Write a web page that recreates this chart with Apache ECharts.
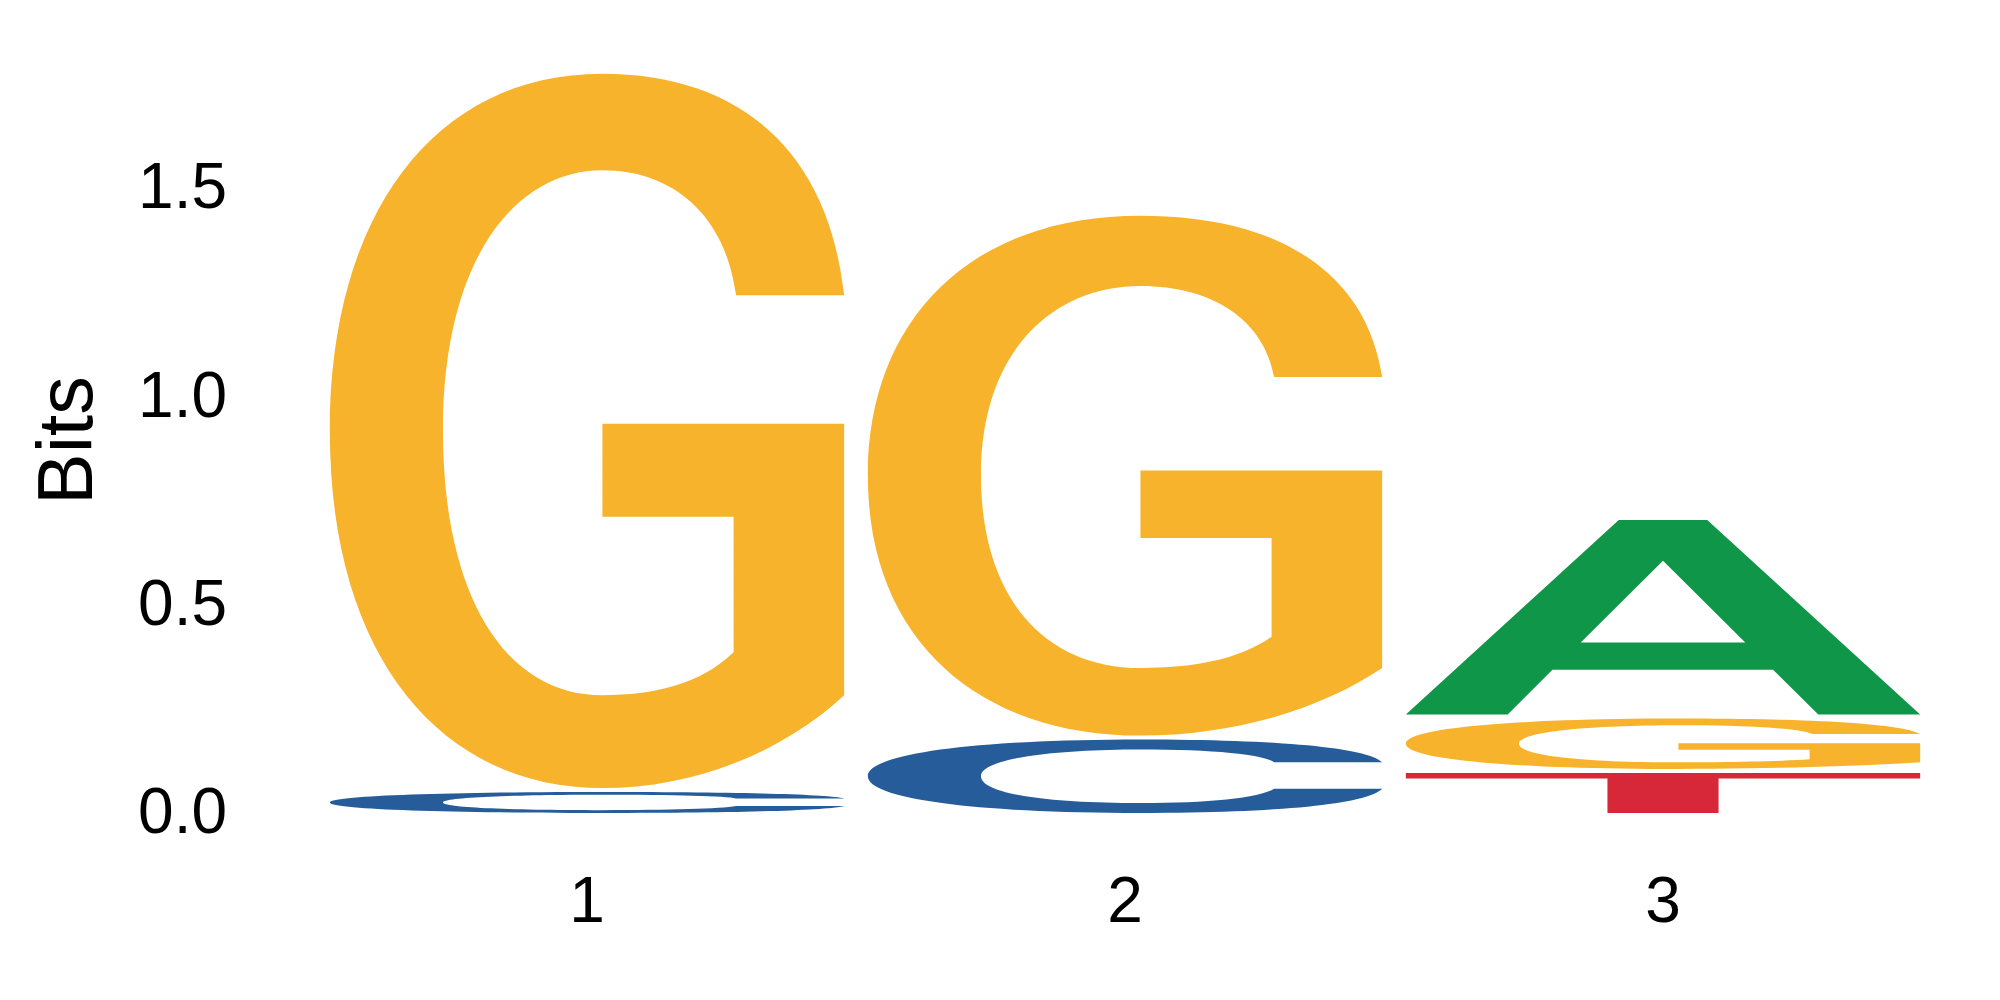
<!DOCTYPE html>
<html>
<head>
<meta charset="utf-8">
<script src="https://cdn.jsdelivr.net/npm/echarts@6/dist/echarts.min.js"></script>
<style>
  html, body { margin: 0; padding: 0; background: #fff; }
  #chart { width: 2000px; height: 1000px; }
</style>
</head>
<body>
<div id="chart"></div>
<script>
// sequence logo data, letters stacked bottom -> top
var positions = ['1', '2', '3'];
var stackLetters = [['C', 'G'], ['C', 'G'], ['T', 'G', 'A']];
var stackHeights = [[0.06, 1.726], [0.186, 1.259], [0.106, 0.131, 0.477]];
var yTicks = [0, 0.5, 1.0, 1.5];

var letterColors = { A: '#109648', C: '#255C99', G: '#F7B32B', T: '#D62839' };

// glyph outlines in a 100x100 box, stretched to each letter's rect
var glyphs = {
  A: 'M41.4,0 L58.6,0 L100,100 L80.2,100 L71.4,77 L28.5,77 L19.8,100 L0,100 Z ' +
     'M50,21 L34,63 L66,63 Z',
  C: 'M100,31 C97,11 80,0 53,0 C20,0 0,20 0,50 C0,80 20,100 53,100 ' +
     'C80,100 97,88 100,67 L79,67 C76,80 66,86.5 53,86.5 C34,86.5 22,73 22,50 ' +
     'C22,26 36,13.5 53,13.5 C67,13.5 77,20 79,31 Z',
  G: 'M100,31 C97,11 80,0 53,0 C20,0 0,20 0,50 C0,82 22,100 53,100 ' +
     'C71,100 88,95 100,87 L100,49 L53,49 L53,62 L78.5,62 L78.5,81 ' +
     'C72,85.5 63,87 53,87 C34,87 22,73 22,50 C22,26 36,13.5 53,13.5 ' +
     'C67,13.5 77,20 79,31 Z',
  T: 'M0,0 L100,0 L100,14 L60.8,14 L60.8,100 L39.2,100 L39.2,14 L0,14 Z'
};

var seriesData = [];
for (var i = 0; i < positions.length; i++) {
  var base = 0;
  for (var j = 0; j < stackLetters[i].length; j++) {
    var h = stackHeights[i][j];
    seriesData.push({
      value: [i, base, base + h],
      letter: stackLetters[i][j]
    });
    base += h;
  }
}

var myChart = echarts.init(document.getElementById('chart'));

var option = {
  animation: false,
  grid: { left: 318, right: 68, top: 66, bottom: 185 },
  xAxis: {
    type: 'category',
    data: positions,
    axisLine: { show: false },
    axisTick: { show: false },
    axisLabel: {
      color: '#000',
      fontSize: 64,
      fontFamily: 'Liberation Sans, Arial, sans-serif',
      margin: 57
    },
    splitLine: { show: false }
  },
  yAxis: {
    type: 'value',
    min: 0,
    max: 1.8,
    interval: 0.5,
    name: 'Bits',
    nameLocation: 'middle',
    nameGap: 209,
    nameRotate: 90,
    nameTextStyle: {
      color: '#000',
      fontSize: 77,
      fontFamily: 'Liberation Sans, Arial, sans-serif'
    },
    axisLine: { show: false },
    axisTick: { show: false },
    splitLine: { show: false },
    axisLabel: {
      color: '#000',
      fontSize: 64,
      fontFamily: 'Liberation Sans, Arial, sans-serif',
      margin: 91,
      showMaxLabel: false,
      formatter: function (v) {
        return yTicks.indexOf(v) >= 0 ? v.toFixed(1) : '';
      }
    }
  },
  series: [
    {
      type: 'custom',
      data: seriesData,
      renderItem: function (params, api) {
        var idx = api.value(0);
        var bottom = api.coord([idx, api.value(1)]);
        var top = api.coord([idx, api.value(2)]);
        var w = api.size([1, 0])[0] * 0.956;
        var pad = 2;
        var letter = seriesData[params.dataIndex].letter;
        return {
          type: 'path',
          shape: {
            pathData: glyphs[letter],
            x: bottom[0] - w / 2,
            y: top[1] + pad,
            width: w,
            height: Math.max(bottom[1] - top[1] - 2 * pad, 1),
            layout: 'cover'
          },
          style: { fill: letterColors[letter] }
        };
      }
    }
  ]
};

myChart.setOption(option);
</script>
</body>
</html>
